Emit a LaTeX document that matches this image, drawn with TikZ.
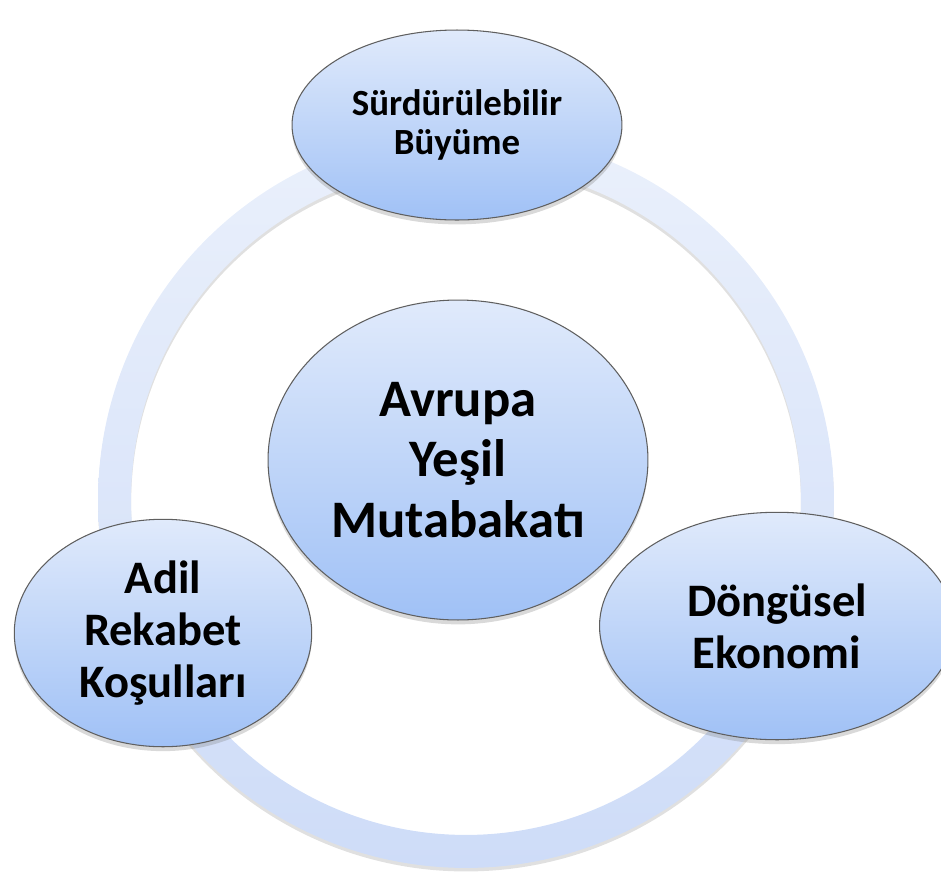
\documentclass[tikz,border=0pt]{standalone}
\usepackage{fontspec}
\setmainfont{Carlito}
\usetikzlibrary{positioning,shapes.geometric,shadows}
\definecolor{bubbletop}{RGB}{224,234,251}
\definecolor{bubblebottom}{RGB}{160,193,246}
\definecolor{ringtop}{RGB}{234,240,251}
\definecolor{ringbottom}{RGB}{206,220,248}
\definecolor{bubbleedge}{RGB}{95,95,95}
\tikzset{
  bubble/.style={ellipse, draw=bubbleedge, line width=0.6pt, top color=bubbletop, bottom color=bubblebottom,
    align=center, inner sep=0pt, drop shadow={shadow xshift=0pt, shadow yshift=-2.5pt, opacity=0.3}}
}

\begin{document}
\begin{tikzpicture}[x=0.02cm, y=-0.02cm]
  \useasboundingbox (0,0) rectangle (941,873);
  \clip (0,0) rectangle (941,873);

  % Ring behind everything
  \coordinate (hub) at (466,500);
  \fill[black, opacity=0.12, even odd rule] ([yshift=-2pt]hub) circle[radius=7.36cm] ([yshift=-2pt]hub) circle[radius=6.7cm];
  \shade[top color=ringtop, bottom color=ringbottom, even odd rule]
    (hub) circle[radius=7.36cm] (hub) circle[radius=6.7cm];

  % Centre
  \node[bubble, minimum width=7.6cm, minimum height=6.4cm, font=\bfseries\fontsize{30}{34.5}\selectfont] (deal) at (458,460) {Avrupa\\Yeşil\\Mutabakatı};

  % Top
  \node[bubble, minimum width=6.6cm, minimum height=3.8cm, font=\bfseries\fontsize{21}{22.5}\selectfont] (growth) at (457,125) {Sürdürülebilir\\Büyüme};

  % Left
  \node[bubble, minimum width=5.95cm, minimum height=4.55cm, font=\bfseries\fontsize{26.5}{29.5}\selectfont] (fair) at (163,633) {Adil\\Rekabet\\Koşulları};

  % Right
  \node[bubble, minimum width=7.1cm, minimum height=4.55cm, font=\bfseries\fontsize{26.5}{29.5}\selectfont] (circular) at (777,626) {Döngüsel\\Ekonomi};
\end{tikzpicture}
\end{document}
